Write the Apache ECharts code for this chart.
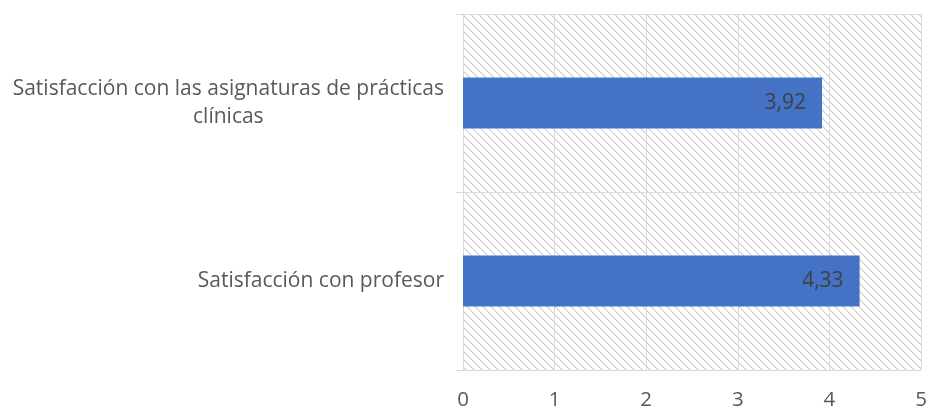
<!DOCTYPE html>
<html>
<head>
<meta charset="utf-8">
<script src="https://cdn.jsdelivr.net/npm/echarts@6/dist/echarts.min.js"></script>
<style>
html,body{margin:0;padding:0;background:#fff;}
#chart{width:947px;height:411px;}
</style>
</head>
<body>
<div id="chart"></div>
<script>
// Data (bottom to top, as ECharts category y-axis draws)
var categories = ['Satisfacción con profesor', 'Satisfacción con las asignaturas de prácticas\nclínicas'];
var values = [4.33, 3.92];
var xTicks = [0, 1, 2, 3, 4, 5];

function makeHatch() {
  var c = document.createElement('canvas');
  c.width = 8; c.height = 8;
  var ctx = c.getContext('2d');
  ctx.fillStyle = '#ffffff';
  ctx.fillRect(0, 0, 8, 8);
  for (var y = 0; y < 8; y++) {
    for (var x = 0; x < 8; x++) {
      var d = ((x - y) % 8 + 8) % 8;
      if (d === 0 || d === 1) {
        ctx.fillStyle = ((x + y) % 2 === 0) ? '#cccccc' : '#e8e8e8';
        ctx.fillRect(x, y, 1, 1);
      }
    }
  }
  return c;
}

var FONT = 'Open Sans';
var chart = echarts.init(document.getElementById('chart'));
chart.setOption({
  animation: false,
  grid: {
    left: 463, right: 26, top: 14, bottom: 40,
    show: true,
    borderWidth: 0,
    backgroundColor: { image: makeHatch(), repeat: 'repeat' }
  },
  xAxis: {
    type: 'value',
    min: xTicks[0],
    max: xTicks[xTicks.length - 1],
    interval: 1,
    axisLine: { show: false },
    axisTick: { show: false },
    splitLine: { show: true, lineStyle: { color: '#d9d9d9', width: 1 } },
    axisLabel: {
      color: '#595959', fontFamily: FONT, fontSize: 20.5, margin: 20,
      formatter: function (v) { return String(v); }
    }
  },
  yAxis: {
    type: 'category',
    data: categories,
    axisLine: { show: true, lineStyle: { color: '#d9d9d9', width: 1 } },
    axisTick: { show: true, length: 7, lineStyle: { color: '#d9d9d9' } },
    splitLine: { show: true, lineStyle: { color: '#d9d9d9', width: 1 } },
    axisLabel: {
      margin: 19,
      align: 'right',
      formatter: function (v) {
        return v.split('\n').map(function (l) { return '{c|' + l + '}'; }).join('\n');
      },
      rich: {
        c: { align: 'center', color: '#595959', fontFamily: FONT, fontSize: 21, lineHeight: 28 }
      }
    }
  },
  series: [{
    type: 'bar',
    data: values,
    barWidth: 51,
    itemStyle: { color: '#4472c4' },
    label: {
      show: true,
      position: 'insideRight',
      distance: 16,
      color: '#404040',
      fontFamily: FONT,
      fontSize: 21,
      formatter: function (p) { return p.value.toFixed(2).replace('.', ','); }
    }
  }]
});
</script>
</body>
</html>
